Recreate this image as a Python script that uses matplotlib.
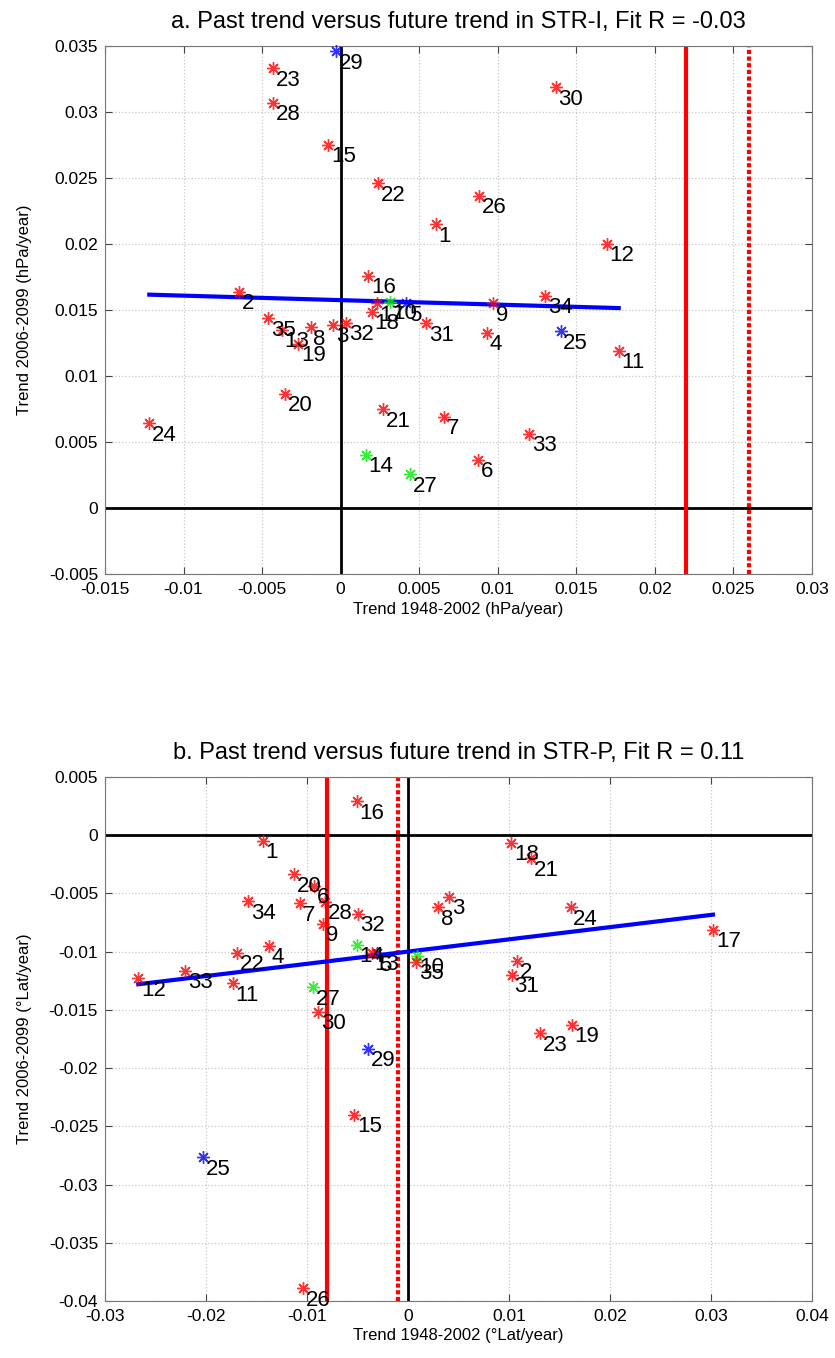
import numpy as np
import matplotlib
matplotlib.use("Agg")
import matplotlib.pyplot as plt
from matplotlib.ticker import FuncFormatter

plt.rcParams["font.family"] = ["Liberation Sans", "DejaVu Sans"]

# model numbers 1..35
models = list(range(1, 36))

# panel a: STR-I trends (hPa/year)
past_a = [0.00605, -0.00647, -0.00047, 0.00929, 0.00416, 0.00876, 0.0066, -0.00191, 0.00971, 0.00314,
          0.0177, 0.01693, -0.00376, 0.00159, -0.0008, 0.00176, 0.00229, 0.00197, -0.0027, -0.00355,
          0.00271, 0.0024, -0.0043, -0.01218, 0.0140, 0.00882, 0.00441, -0.0043, -0.0003, 0.01368,
          0.00543, 0.00034, 0.0120, 0.0130, -0.00461]
future_a = [0.0215, 0.01639, 0.01388, 0.01328, 0.01551, 0.00365, 0.00692, 0.01369, 0.01551, 0.01563,
            0.0119, 0.02002, 0.01348, 0.00402, 0.0275, 0.01758, 0.01551, 0.01487, 0.01242, 0.00864,
            0.00747, 0.0246, 0.0333, 0.00641, 0.0134, 0.02366, 0.00255, 0.0307, 0.0346, 0.03187,
            0.01399, 0.01404, 0.0056, 0.0161, 0.01437]
obs_a = [0.022, 0.026]
fit_a = [-0.034, 0.01575]  # slope, intercept of the drawn fit

# panel b: STR-P trends (deg Lat/year)
past_b = [-0.01439, 0.01082, 0.00407, -0.01376, -0.0031, -0.0093, -0.01069, 0.0030, -0.00838, 0.00086,
          -0.01736, -0.0267, -0.0036, -0.00508, -0.00532, -0.00508, 0.0302, 0.0102, 0.0162, -0.01129,
          0.01215, -0.01696, 0.0131, 0.0161, -0.02026, -0.0104, -0.00938, -0.00822, -0.00399, -0.00888,
          0.01026, -0.00498, -0.02208, -0.01581, 0.0008]
future_b = [-0.00051, -0.0108, -0.00529, -0.00952, -0.01015, -0.00437, -0.00586, -0.0062, -0.00763, -0.01038,
            -0.01272, -0.01229, -0.01009, -0.00943, -0.02401, 0.00292, -0.00815, -0.00066, -0.0163, -0.00337,
            -0.002, -0.0101, -0.0170, -0.0062, -0.02767, -0.0389, -0.01306, -0.00572, -0.01835, -0.01515,
            -0.012, -0.00678, -0.01166, -0.00569, -0.01086]
obs_b = [-0.008, -0.001]
fit_b = [0.105, -0.0100]

blue_models = [5, 25, 29]
green_models = [10, 14, 27]


def fmt(v, pos=None):
    s = f"{round(v, 4):g}"
    return "0" if s in ("-0", "0") else s


def panel(ax, past, future, obs, fit, title, xlim, ylim, xstep, xlabel, ylabel):
    past = np.array(past)
    future = np.array(future)

    ax.set_axisbelow(True)
    ax.axhline(0, color="black", lw=2, zorder=2)
    ax.axvline(0, color="black", lw=2, zorder=2)
    ax.axvline(obs[0], color="red", lw=3, zorder=2)
    ax.axvline(obs[1], color="red", lw=3, ls=(0, (1, 0.6)), zorder=2)

    xs = np.array([past.min(), past.max()])
    ax.plot(xs, fit[0] * xs + fit[1], color="blue", lw=3, zorder=2.5)

    for m, x, y in zip(models, past, future):
        if m in blue_models:
            c = "blue"
        elif m in green_models:
            c = "#00ee00"
        else:
            c = "red"
        ax.plot(x, y, marker=(8, 2, 0), ms=9, mew=1, color=c, ls="none", zorder=3, alpha=0.8,
                clip_on=False)
        ax.annotate(str(m), (x, y), xytext=(2, -1), textcoords="offset points",
                    ha="left", va="top", fontsize=16, zorder=4)

    ax.set_xlim(xlim)
    ax.set_ylim(ylim)
    ax.set_xticks(np.arange(xlim[0], xlim[1] + xstep / 2, xstep))
    ax.set_yticks(np.arange(ylim[0], ylim[1] + 0.0025, 0.005))
    ax.xaxis.set_major_formatter(FuncFormatter(fmt))
    ax.yaxis.set_major_formatter(FuncFormatter(fmt))
    ax.grid(True, ls=":", color="#c8c8c8", lw=0.9)
    ax.tick_params(direction="in", top=True, right=True, labelsize=12.5, length=5, color="#444444")
    ax.tick_params(axis="x", pad=6)
    ax.tick_params(axis="y", pad=5)
    for s in ax.spines.values():
        s.set_color("#777777")
    ax.set_xlabel(xlabel, fontsize=12, labelpad=3)
    ax.set_ylabel(ylabel, fontsize=12, labelpad=12)
    ax.set_title(title, fontsize=17, pad=13)


fig = plt.figure(figsize=(8.35, 13.58), dpi=100)
ax1 = fig.add_axes([0.1257, 0.5773, 0.8467, 0.3888])
ax2 = fig.add_axes([0.1257, 0.042, 0.8467, 0.3859])

panel(ax1, past_a, future_a, obs_a, fit_a,
      "a. Past trend versus future trend in STR-I, Fit R = -0.03",
      (-0.015, 0.03), (-0.005, 0.035), 0.005,
      "Trend 1948-2002 (hPa/year)", "Trend 2006-2099 (hPa/year)")
panel(ax2, past_b, future_b, obs_b, fit_b,
      "b. Past trend versus future trend in STR-P, Fit R = 0.11",
      (-0.03, 0.04), (-0.04, 0.005), 0.01,
      "Trend 1948-2002 (\u00b0Lat/year)", "Trend 2006-2099 (\u00b0Lat/year)")

fig.savefig("out.png", dpi=100)
